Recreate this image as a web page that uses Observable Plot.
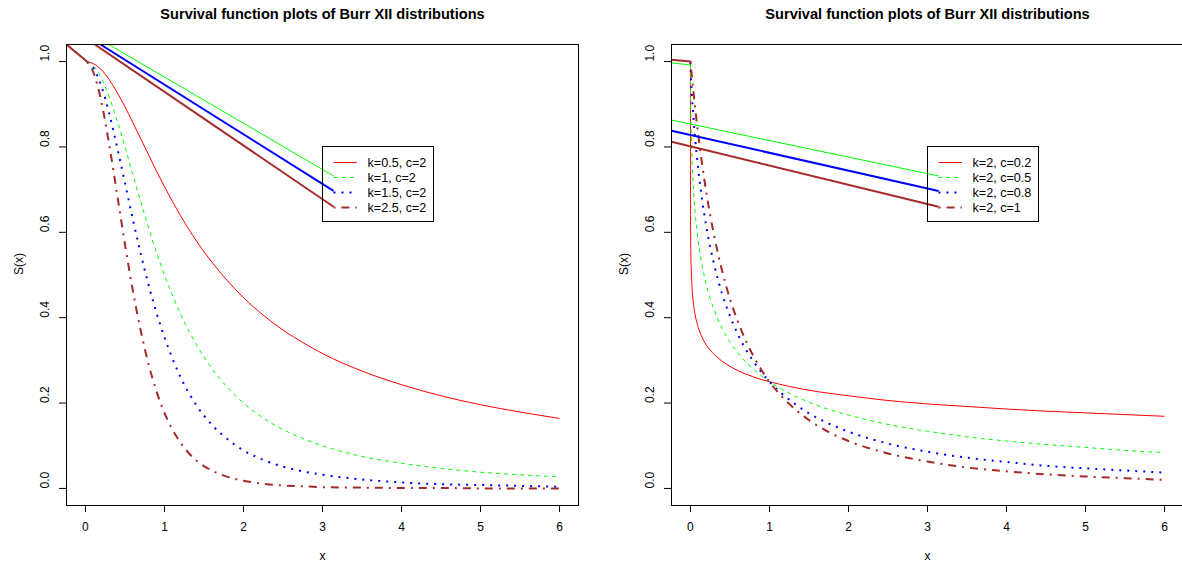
<!DOCTYPE html>
<html>
<head>
<meta charset="utf-8">
<script src="https://cdn.jsdelivr.net/npm/d3@7"></script>
<script src="https://cdn.jsdelivr.net/npm/@observablehq/plot@0.6"></script>
<style>
  html, body { margin: 0; padding: 0; background: #fff; overflow: hidden; }
  #wrap { position: relative; width: 1182px; height: 566px; overflow: hidden; background: #fff; }
  #wrap > svg { position: absolute; top: 0; }
</style>
</head>
<body>
<div id="wrap"></div>
<script>
// ---- text ----
const title = "Survival function plots of Burr XII distributions";
const xTitle = "x";
const yTitle = "S(x)";
const xTicks = [0, 1, 2, 3, 4, 5, 6];
const yTicks = [0, 0.2, 0.4, 0.6, 0.8, 1.0];

// ---- left panel: Burr XII survival, c = 2, varying k ----
const leftLabels = ["k=0.5, c=2", "k=1, c=2", "k=1.5, c=2", "k=2.5, c=2"];
const leftX = [0.02, 0.1, 0.2, 0.3, 0.4, 0.5, 0.6, 0.7, 0.8, 0.9, 1.0, 1.2, 1.4, 1.6, 1.8, 2.0,
               2.25, 2.5, 2.75, 3.0, 3.5, 4.0, 4.5, 5.0, 5.5, 6.0];
const leftK05 = [1.000, 0.995, 0.981, 0.958, 0.928, 0.894, 0.857, 0.819, 0.781, 0.743, 0.707, 0.640, 0.581,
                 0.530, 0.486, 0.447, 0.406, 0.371, 0.342, 0.316, 0.275, 0.243, 0.217, 0.196, 0.179, 0.164];
const leftK1 = [1.000, 0.990, 0.962, 0.917, 0.862, 0.800, 0.735, 0.671, 0.610, 0.552, 0.500, 0.410, 0.338,
                0.281, 0.236, 0.200, 0.165, 0.138, 0.117, 0.100, 0.075, 0.059, 0.047, 0.038, 0.032, 0.027];
const leftK15 = [0.999, 0.985, 0.943, 0.879, 0.800, 0.716, 0.630, 0.550, 0.476, 0.411, 0.354, 0.262, 0.196,
                 0.149, 0.115, 0.089, 0.067, 0.051, 0.040, 0.032, 0.021, 0.014, 0.010, 0.008, 0.006, 0.004];
const leftK25 = [0.999, 0.975, 0.907, 0.806, 0.690, 0.572, 0.463, 0.369, 0.290, 0.227, 0.177, 0.108, 0.066,
                 0.042, 0.027, 0.018, 0.011, 0.007, 0.005, 0.003, 0.002, 0.001, 0.001, 0.000, 0.000, 0.000];
// straight strokes running into the left panel (series index, from, to)
const leftStrokes = [
  {series: 3, from: [-0.24, 1.04], to: [0.02, 1.0]},
  {series: 1, from: [0.295, 1.04], to: [3.14, 0.732]},
  {series: 2, from: [0.19, 1.04], to: [3.14, 0.697]},
  {series: 3, from: [0.118, 1.04], to: [3.14, 0.660]}
];

// ---- right panel: Burr XII survival, k = 2, varying c ----
const rightLabels = ["k=2, c=0.2", "k=2, c=0.5", "k=2, c=0.8", "k=2, c=1"];
const rightX = [0, 0.0001, 0.001, 0.005, 0.01, 0.02, 0.04, 0.06, 0.08, 0.1, 0.15, 0.2, 0.3, 0.4, 0.5, 0.6,
                0.7, 0.8, 0.9, 1.0, 1.25, 1.5, 1.75, 2.0, 2.5, 3.0, 3.5, 4.0, 4.5, 5.0, 5.5, 6.0];
const rightC02 = [1.000, 0.745, 0.639, 0.552, 0.512, 0.471, 0.430, 0.406, 0.389, 0.376, 0.353, 0.336, 0.314, 0.298,
                  0.286, 0.276, 0.268, 0.261, 0.255, 0.250, 0.239, 0.230, 0.223, 0.217, 0.206, 0.198, 0.192, 0.186,
                  0.181, 0.177, 0.173, 0.169];
const rightC05 = [0.992, 0.980, 0.940, 0.872, 0.826, 0.768, 0.694, 0.645, 0.608, 0.577, 0.520, 0.478, 0.418, 0.375,
                  0.343, 0.318, 0.296, 0.279, 0.263, 0.250, 0.223, 0.202, 0.185, 0.172, 0.150, 0.134, 0.121, 0.111,
                  0.103, 0.096, 0.089, 0.084];
const rightC08 = [0.999, 0.999, 0.992, 0.972, 0.952, 0.918, 0.864, 0.819, 0.780, 0.745, 0.673, 0.614, 0.524, 0.456,
                  0.404, 0.361, 0.326, 0.297, 0.272, 0.250, 0.208, 0.176, 0.152, 0.133, 0.105, 0.086, 0.072, 0.062,
                  0.053, 0.047, 0.042, 0.037];
const rightC1 = [1.000, 1.000, 0.998, 0.990, 0.980, 0.961, 0.925, 0.890, 0.857, 0.826, 0.756, 0.694, 0.592, 0.510,
                 0.444, 0.391, 0.346, 0.309, 0.277, 0.250, 0.198, 0.160, 0.132, 0.111, 0.082, 0.063, 0.049, 0.040,
                 0.033, 0.028, 0.024, 0.020];
const rightStrokes = [
  {series: 1, from: [-0.24, 0.997], to: [0, 0.992]},
  {series: 3, from: [-0.24, 1.004], to: [0, 1.0]},
  {series: 1, from: [-0.24, 0.863], to: [3.14, 0.732]},
  {series: 2, from: [-0.24, 0.838], to: [3.14, 0.697]},
  {series: 3, from: [-0.24, 0.812], to: [3.14, 0.660]}
];

// ---- styling (R-like line types: solid, dashed, dotted, dot-dash) ----
const FONT = "'Liberation Sans', Arial, Helvetica, sans-serif";
const lineStyles = [
  {stroke: "#FF0000", strokeWidth: 1, strokeDasharray: null},
  {stroke: "#00FF00", strokeWidth: 1, strokeDasharray: "4,4"},
  {stroke: "#0000FF", strokeWidth: 2, strokeDasharray: "2,6"},
  {stroke: "#A52A2A", strokeWidth: 2, strokeDasharray: "2,6,8,6"}
];
const legendAt = [3, 0.8]; // top-left corner of the legend box, in data units

function legendMark(labels) {
  return (index, scales) => {
    const x0 = Math.round(scales.x(legendAt[0])) + 0.5;
    const y0 = Math.round(scales.y(legendAt[1])) + 0.5;
    const g = d3.create("svg:g");
    g.append("rect")
      .attr("x", x0).attr("y", y0).attr("width", 111).attr("height", 75)
      .attr("fill", "none").attr("stroke", "black").attr("stroke-width", 1);
    labels.forEach((label, i) => {
      const s = lineStyles[i];
      const yy = y0 + 16 + 15 * i;
      g.append("line")
        .attr("x1", x0 + 11).attr("x2", x0 + 34.3)
        .attr("y1", yy).attr("y2", yy)
        .attr("stroke", s.stroke).attr("stroke-width", s.strokeWidth)
        .attr("stroke-dasharray", s.strokeDasharray);
      g.append("text")
        .attr("x", x0 + 45).attr("y", yy + 4.4)
        .attr("text-anchor", "start")
        .attr("font-family", FONT).attr("font-size", 12.6).attr("fill", "black")
        .text(label);
    });
    return g.node();
  };
}

function panel(xs, series, labels, strokes) {
  const curves = series.map((ys, s) =>
    Plot.line(xs.map((x, i) => [x, ys[i]]), {
      x: d => d[0], y: d => d[1],
      stroke: lineStyles[s].stroke,
      strokeWidth: lineStyles[s].strokeWidth,
      strokeDasharray: lineStyles[s].strokeDasharray,
      strokeLinecap: "butt",
      curve: "monotone-x",
      clip: "frame"
    })
  );
  const straight = strokes.map(d =>
    Plot.link([d], {
      x1: e => e.from[0], y1: e => e.from[1], x2: e => e.to[0], y2: e => e.to[1],
      stroke: lineStyles[d.series].stroke,
      strokeWidth: lineStyles[d.series].strokeWidth,
      clip: "frame"
    })
  );
  return Plot.plot({
    width: 591,
    height: 566,
    marginLeft: 66,
    marginRight: 13,
    marginTop: 44,
    marginBottom: 61,
    style: {fontFamily: FONT, fontSize: "12px", background: "white", color: "black", overflow: "visible"},
    x: {domain: [-0.24, 6.24], ticks: xTicks, tickSize: 7, tickPadding: 10, tickFormat: d => String(d), label: null},
    y: {domain: [-0.04, 1.04], ticks: yTicks, tickSize: 7, tickFormat: () => "", label: null},
    marks: [
      ...curves,
      ...straight,
      legendMark(labels),
      Plot.frame({stroke: "black", strokeWidth: 1}),
      Plot.text(yTicks, {
        y: d => d, text: d => d3.format(".1f")(d),
        frameAnchor: "left", dx: -21, rotate: -90, lineAnchor: "middle", fontSize: 12
      }),
      Plot.text([yTitle], {text: d => d, frameAnchor: "left", dx: -47, rotate: -90, lineAnchor: "middle", fontSize: 12}),
      Plot.text([xTitle], {text: d => d, frameAnchor: "bottom", dy: 51, lineAnchor: "middle", fontSize: 12}),
      Plot.text([title], {text: d => d, frameAnchor: "top", dy: -30, lineAnchor: "middle", fontSize: 14.6, fontWeight: "bold"})
    ]
  });
}

const wrap = document.getElementById("wrap");
const leftPlot = panel(leftX, [leftK05, leftK1, leftK15, leftK25], leftLabels, leftStrokes);
leftPlot.style.left = "0px";
wrap.appendChild(leftPlot);
const rightPlot = panel(rightX, [rightC02, rightC05, rightC08, rightC1], rightLabels, rightStrokes);
rightPlot.style.left = "605px";
wrap.appendChild(rightPlot);
</script>
</body>
</html>
